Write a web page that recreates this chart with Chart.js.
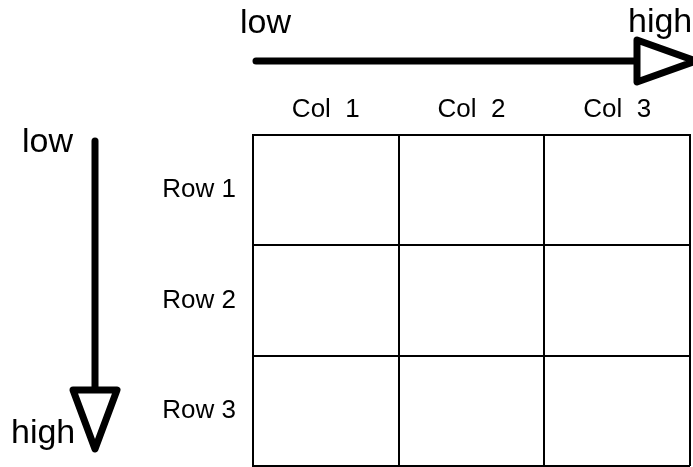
<!DOCTYPE html>
<html>
<head>
<meta charset="utf-8">
<script src="https://cdn.jsdelivr.net/npm/chart.js@4/dist/chart.umd.min.js"></script>
<style>
  html, body { margin: 0; padding: 0; background: #fff; overflow: hidden; }
  #wrap { width: 693px; height: 467px; position: relative; }
</style>
</head>
<body>
<div id="wrap"><canvas id="c"></canvas></div>
<script>
// ---- data ----
const colLabels = ['Col  1', 'Col  2', 'Col  3'];
const rowLabels = ['Row 1', 'Row 2', 'Row 3'];
const cellValues = [];            // the matrix cells are empty in the reference
const arrowEndLabels = ['low', 'high'];

const FONT = '"Liberation Sans", Arial, Helvetica, sans-serif';

const arrowPlugin = {
  id: 'arrows',
  afterDraw(chart) {
    const ctx = chart.ctx;
    const a = chart.chartArea;
    ctx.save();
    ctx.strokeStyle = '#000';
    ctx.fillStyle = '#fff';
    ctx.lineWidth = 7;
    ctx.lineCap = 'round';
    ctx.lineJoin = 'round';

    // horizontal arrow (columns: low -> high)
    const hy = a.top - 74;
    const hBase = a.right - 53;
    ctx.beginPath();
    ctx.moveTo(a.left + 3, hy);
    ctx.lineTo(hBase, hy);
    ctx.stroke();
    ctx.beginPath();
    ctx.moveTo(hBase, hy - 21);
    ctx.lineTo(hBase + 59, hy);
    ctx.lineTo(hBase, hy + 21);
    ctx.closePath();
    ctx.fill();
    ctx.stroke();

    // vertical arrow (rows: low -> high)
    const vx = 95;
    const vBase = a.bottom - 76;
    ctx.beginPath();
    ctx.moveTo(vx, a.top + 6);
    ctx.lineTo(vx, vBase);
    ctx.stroke();
    ctx.beginPath();
    ctx.moveTo(vx - 22, vBase);
    ctx.lineTo(vx, vBase + 59);
    ctx.lineTo(vx + 22, vBase);
    ctx.closePath();
    ctx.fill();
    ctx.stroke();

    // end labels
    ctx.fillStyle = '#000';
    ctx.font = '34px ' + FONT;
    ctx.textBaseline = 'alphabetic';
    ctx.textAlign = 'left';
    ctx.fillText(arrowEndLabels[0], 240, 33);
    ctx.fillText(arrowEndLabels[1], 628, 32);
    ctx.fillText(arrowEndLabels[0], 22, 152);
    ctx.fillText(arrowEndLabels[1], 11, 443);
    ctx.restore();
  }
};

function noPad(s) {
  s.paddingTop = 0; s.paddingBottom = 0; s.paddingLeft = 0; s.paddingRight = 0;
}

new Chart(document.getElementById('c'), {
  type: 'scatter',
  data: {
    datasets: [{ label: 'cells', data: cellValues, pointRadius: 0 }]
  },
  options: {
    responsive: true,
    maintainAspectRatio: false,
    devicePixelRatio: 1,
    animation: false,
    layout: { padding: { left: 0, top: 0, right: 3, bottom: 1 } },
    plugins: { legend: { display: false }, tooltip: { enabled: false } },
    scales: {
      x: {
        type: 'category',
        labels: colLabels,
        position: 'top',
        offset: true,
        grid: { offset: true, color: '#000', lineWidth: 2, drawTicks: false },
        border: { display: true, color: '#000', width: 2 },
        ticks: { color: '#000', padding: 10, font: { size: 26, family: FONT } },
        afterFit(s) { s.height = 135; noPad(s); }
      },
      y: {
        type: 'category',
        labels: rowLabels,
        position: 'left',
        offset: true,
        grid: { offset: true, color: '#000', lineWidth: 2, drawTicks: false },
        border: { display: true, color: '#000', width: 2 },
        ticks: { color: '#000', padding: 17, font: { size: 26, family: FONT } },
        afterFit(s) { s.width = 253; noPad(s); }
      }
    }
  },
  plugins: [arrowPlugin]
});
</script>
</body>
</html>
